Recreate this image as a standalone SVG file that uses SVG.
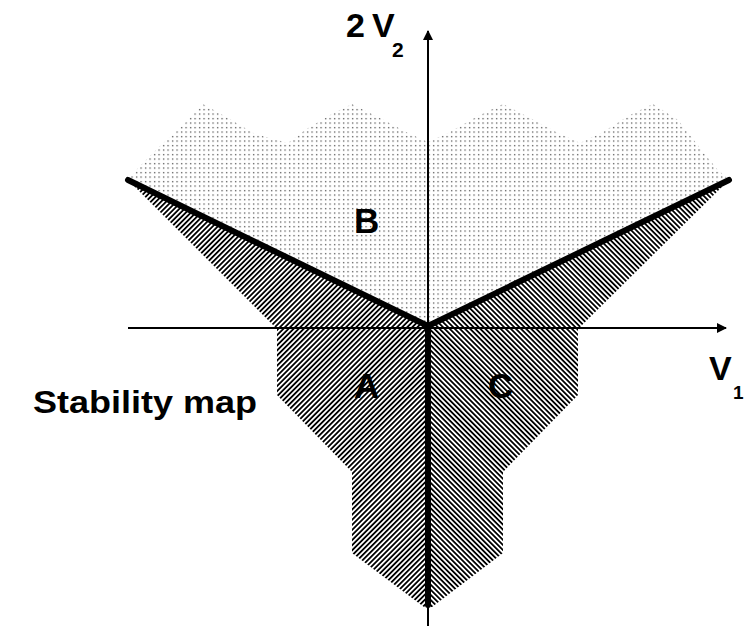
<svg xmlns="http://www.w3.org/2000/svg" width="744" height="626" viewBox="0 0 744 626">
  <style>
    .lbl { font-family: "Liberation Sans", Arial, Helvetica, sans-serif; font-weight: bold; fill: #000; }
    .axis { stroke: #000; stroke-width: 2; fill: none; }
    .thick { stroke: #000; stroke-width: 6; stroke-linecap: round; fill: none; }
  </style>
  <defs>
    <pattern id="dots" patternUnits="userSpaceOnUse" width="4.5" height="4.5">
      <rect x="1" y="1" width="1.2" height="1.2" fill="#333"/>
    </pattern>
    <pattern id="hatchA" patternUnits="userSpaceOnUse" width="10" height="3.6" patternTransform="rotate(-45)">
      <rect x="0" y="0" width="10" height="1.8" fill="#000"/>
    </pattern>
    <pattern id="hatchC" patternUnits="userSpaceOnUse" width="10" height="3.6" patternTransform="rotate(45)">
      <rect x="0" y="0" width="10" height="1.8" fill="#000"/>
    </pattern>
    <marker id="arrow" viewBox="0 0 10 10" refX="9" refY="5" markerWidth="5" markerHeight="5" markerUnits="strokeWidth" orient="auto">
      <path d="M0,0 L10,5 L0,10 z" fill="#000"/>
    </marker>
  </defs>

  <g id="region-B">
    <path d="M128,180 L138,168 L160,146 L182,126 L203,104 L228,118 L255,134 L288,143 L305,130 L330,115 L352,104 L380,118 L408,133 L428,142 L448,133 L478,116 L503,104 L530,118 L558,133 L580,143 L603,132 L630,115 L653,104 L678,120 L700,148 L716,168 L729,180 L428,326 Z" fill="url(#dots)"/>
  </g>

  <g id="region-A">
    <path d="M128,180 L428,326 L428,607 L424,607 L352,553 L352,472 L277,395 L277,329 Z" fill="url(#hatchA)"/>
  </g>

  <g id="region-C">
    <path d="M729,180 L428,326 L428,607 L432,607 L503,553 L503,472 L578,395 L578,329 Z" fill="url(#hatchC)"/>
  </g>

  <g id="connectors">
    <line class="axis" x1="128" y1="328" x2="726" y2="328" marker-end="url(#arrow)"/>
    <line class="axis" x1="428" y1="626" x2="428" y2="31" marker-end="url(#arrow)"/>
    <line class="thick" x1="128" y1="180" x2="428" y2="326"/>
    <line class="thick" x1="729" y1="180" x2="428" y2="326"/>
    <line class="thick" x1="428" y1="326" x2="428" y2="605" stroke-width="5"/>
  </g>

  <g id="label-A"><text class="lbl" x="354" y="398" font-size="35">A</text></g>
  <g id="label-B"><text class="lbl" x="354" y="233" font-size="35">B</text></g>
  <g id="label-C"><text class="lbl" x="488" y="398" font-size="35">C</text></g>
  <g id="label-y">
    <text class="lbl" x="346" y="37" font-size="34">2</text>
    <text class="lbl" x="372" y="37" font-size="34">V</text>
    <text class="lbl" x="392" y="57" font-size="21">2</text>
  </g>
  <g id="label-x">
    <text class="lbl" x="709" y="380" font-size="34">V</text>
    <text class="lbl" x="733" y="399" font-size="19">1</text>
  </g>
  <g id="title">
    <text class="lbl" x="33" y="413" font-size="31" textLength="224" lengthAdjust="spacingAndGlyphs">Stability map</text>
  </g>
</svg>
